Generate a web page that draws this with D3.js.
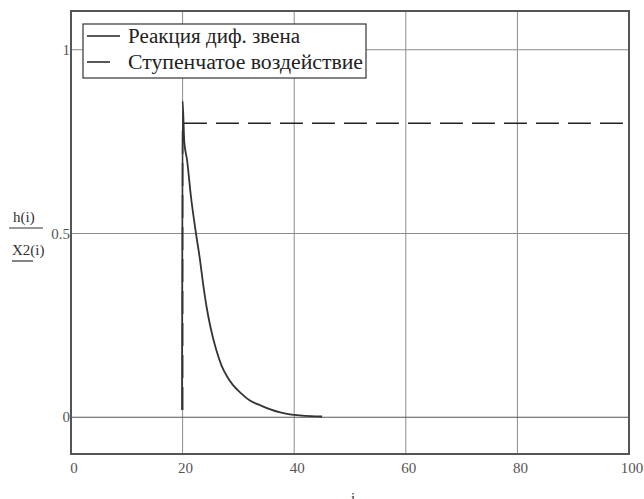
<!DOCTYPE html>
<html>
<head>
<meta charset="utf-8">
<script src="https://cdn.jsdelivr.net/npm/d3@7"></script>
<style>
  body { margin: 0; background: #fff; }
</style>
</head>
<body>
<div id="chart"></div>
<script>
// response of the differentiating link h(i): [i, value]
var hData = [
  [19.9, 0.02], [20, 0.86], [20.3, 0.75], [20.8, 0.70], [21.5, 0.60],
  [22.4, 0.50], [23.1, 0.43], [23.7, 0.36], [24.3, 0.30], [25, 0.245],
  [26, 0.185], [27, 0.14], [28, 0.11], [29, 0.088], [30.5, 0.065],
  [32, 0.046], [34, 0.032], [35.6, 0.022], [37.5, 0.013], [39.2, 0.008],
  [41, 0.005], [43, 0.003], [45, 0.002]
];
// step input X2(i)
var stepData = [[20, 0.02], [20, 0.8], [100, 0.8]];
var xTicks = [0, 20, 40, 60, 80, 100];
var yTicks = [0, 0.5, 1];
var yTickLabels = ["0", "0.5", "1"];
var legendLabels = ["Реакция диф. звена", "Ступенчатое воздействие"];

var width = 644, height = 499;
var pLeft = 71, pRight = 629, pTop = 11, pBottom = 454;
var serif = "'Liberation Serif', 'Times New Roman', Times, serif";

var svg = d3.select("#chart").append("svg")
  .attr("width", width)
  .attr("height", height)
  .style("font-family", serif);

var x = d3.scaleLinear().domain([0, 100]).range([pLeft, pRight]);
var y = d3.scaleLinear().domain([-0.1, 1.1]).range([pBottom, pTop + 2]);

// grid
svg.selectAll(".vgrid")
  .data(xTicks.filter(function(d) { return d > 0 && d < 100; }))
  .enter().append("line")
  .attr("x1", function(d) { return x(d); })
  .attr("x2", function(d) { return x(d); })
  .attr("y1", pTop)
  .attr("y2", pBottom)
  .attr("stroke", "#8c8c8c")
  .attr("stroke-width", 1);

svg.selectAll(".hgrid")
  .data(yTicks)
  .enter().append("line")
  .attr("x1", pLeft)
  .attr("x2", pRight)
  .attr("y1", function(d) { return y(d); })
  .attr("y2", function(d) { return y(d); })
  .attr("stroke", function(d) { return d === 0 ? "#555" : "#8c8c8c"; })
  .attr("stroke-width", 1);

// frame
svg.append("rect")
  .attr("x", pLeft)
  .attr("y", pTop)
  .attr("width", pRight - pLeft)
  .attr("height", pBottom - pTop)
  .attr("fill", "none")
  .attr("stroke", "#555")
  .attr("stroke-width", 2);

// tick labels
svg.selectAll(".xlab")
  .data(xTicks)
  .enter().append("text")
  .attr("x", function(d) { return x(d) + 3; })
  .attr("y", pBottom + 19)
  .attr("text-anchor", "middle")
  .attr("font-size", 15)
  .attr("fill", "#555")
  .text(function(d) { return d; });

svg.selectAll(".ylab")
  .data(yTicks)
  .enter().append("text")
  .attr("x", pLeft - 1)
  .attr("y", function(d) { return y(d) + 5; })
  .attr("text-anchor", "end")
  .attr("font-size", 15)
  .attr("fill", "#555")
  .text(function(d, i) { return yTickLabels[i]; });

// series
var line = d3.line()
  .x(function(d) { return x(d[0]); })
  .y(function(d) { return y(d[1]); })
  .curve(d3.curveMonotoneX);

svg.append("path")
  .datum(stepData)
  .attr("d", d3.line()
    .x(function(d) { return x(d[0]); })
    .y(function(d) { return y(d[1]); }))
  .attr("fill", "none")
  .attr("stroke", "#222")
  .attr("stroke-width", 1.6)
  .attr("stroke-dasharray", "23,9");

svg.append("path")
  .datum(hData)
  .attr("d", line)
  .attr("fill", "none")
  .attr("stroke", "#333")
  .attr("stroke-width", 1.8);

// legend
var lg = svg.append("g");
lg.append("rect")
  .attr("x", 83)
  .attr("y", 24)
  .attr("width", 283)
  .attr("height", 54)
  .attr("fill", "#fff")
  .attr("stroke", "#333")
  .attr("stroke-width", 1.2);

var legendWidths = [172, 235];
legendLabels.forEach(function(label, i) {
  var ly = 36 + i * 26;
  lg.append("line")
    .attr("x1", 87).attr("x2", i === 1 ? 110 : 120)
    .attr("y1", ly).attr("y2", ly)
    .attr("stroke", "#222")
    .attr("stroke-width", 1.5);
  lg.append("text")
    .attr("x", 128)
    .attr("y", ly + 7)
    .attr("font-size", 20)
    .attr("fill", "#222")
    .attr("textLength", legendWidths[i])
    .attr("lengthAdjust", "spacingAndGlyphs")
    .text(label);
});

// y axis title
svg.append("text")
  .attr("x", 13).attr("y", 222)
  .attr("font-size", 15).attr("fill", "#333")
  .text("h(i)");
svg.append("line")
  .attr("x1", 9).attr("x2", 43)
  .attr("y1", 228).attr("y2", 228)
  .attr("stroke", "#333").attr("stroke-width", 1.2);
svg.append("text")
  .attr("x", 12).attr("y", 255)
  .attr("font-size", 15).attr("fill", "#333")
  .text("X2(i)");
svg.append("line")
  .attr("x1", 12).attr("x2", 33)
  .attr("y1", 261).attr("y2", 261)
  .attr("stroke", "#333").attr("stroke-width", 1.2);

// x axis title
svg.append("text")
  .attr("x", 353).attr("y", 503)
  .attr("text-anchor", "middle")
  .attr("font-size", 15).attr("fill", "#333")
  .text("i");
</script>
</body>
</html>
